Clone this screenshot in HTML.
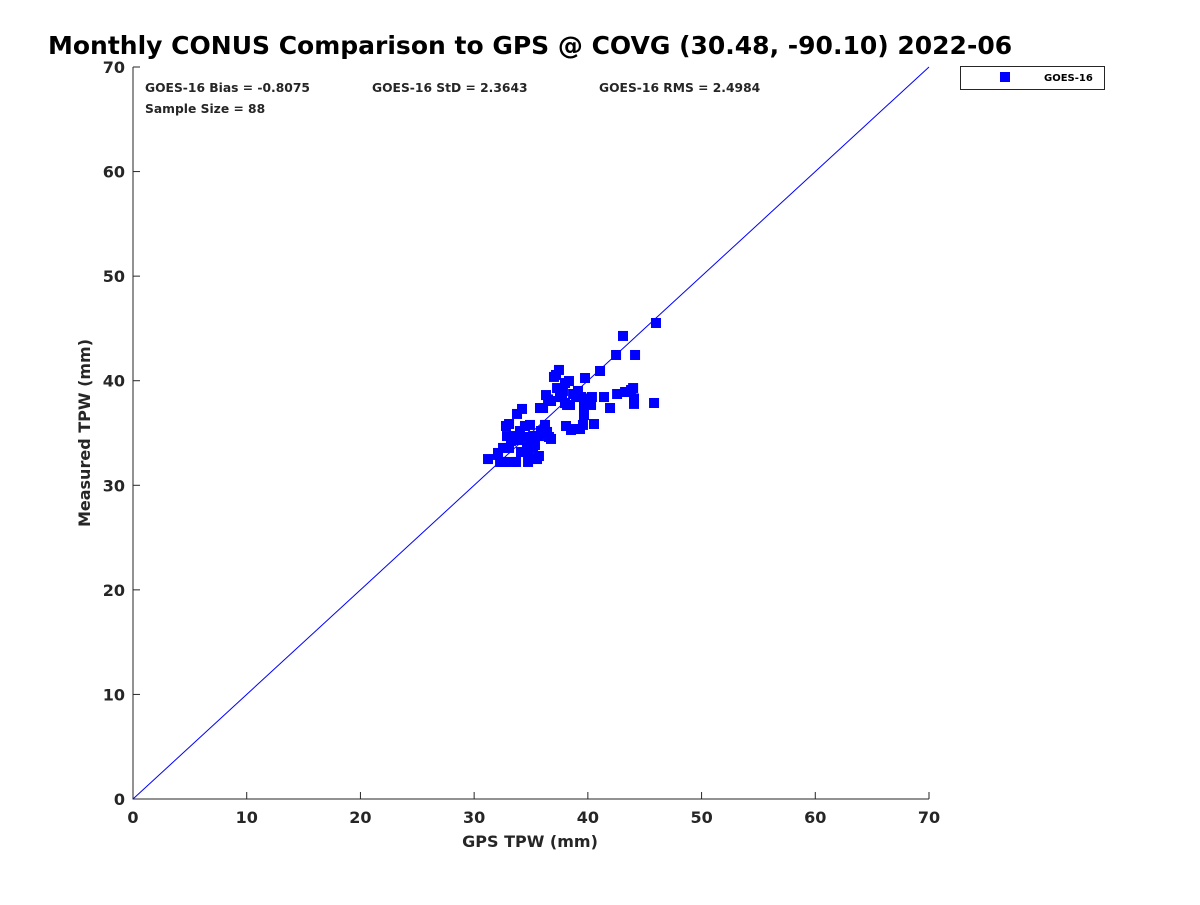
<!DOCTYPE html>
<html><head><meta charset="utf-8"><style>
body{margin:0;background:#fff;font-family:"Liberation Sans",sans-serif}
svg text{font-family:"DejaVu Sans","Liberation Sans",sans-serif;font-weight:bold;fill:#262626}
</style></head><body>
<svg id="c" width="1200" height="900">
<text x="48" y="54" font-size="25" style="fill:#000">Monthly CONUS Comparison to GPS @ COVG (30.48, -90.10) 2022-06</text>
<g id="axes"></g>
<text x="530" y="847" font-size="16" text-anchor="middle">GPS TPW (mm)</text>
<text transform="translate(90,433) rotate(-90)" font-size="16" text-anchor="middle">Measured TPW (mm)</text>
<g font-size="12.3" style="fill:#000">
<text x="145" y="92">GOES-16 Bias = -0.8075</text>
<text x="372" y="92">GOES-16 StD = 2.3643</text>
<text x="599" y="92">GOES-16 RMS = 2.4984</text>
<text x="145" y="113">Sample Size = 88</text>
</g>
<g>
<rect x="960.5" y="66.5" width="144" height="23" fill="#fff" stroke="#262626"/>
<rect x="1000" y="72" width="10" height="10" fill="#0000ff"/>
<text x="1044" y="81" font-size="10" style="fill:#000">GOES-16</text>
</g>
</svg>
<script>
const xTicks=[0,10,20,30,40,50,60,70];
const yTicks=[0,10,20,30,40,50,60,70];
const gpsX=[31.22,32.10,32.28,32.54,32.80,32.89,33.07,33.07,33.24,33.42,33.51,33.68,33.77,33.86,34.03,34.12,34.21,34.39,34.47,34.65,34.74,34.82,34.91,35.00,35.18,35.35,35.53,35.70,35.79,35.88,35.97,36.06,36.23,36.32,36.41,36.50,36.76,36.76,37.02,37.20,37.29,37.46,37.55,37.73,37.81,37.99,37.99,38.08,38.17,38.34,38.43,38.52,38.70,38.87,38.96,39.13,39.31,39.40,39.57,39.66,39.66,39.75,39.75,40.01,40.28,40.36,40.54,41.07,41.42,41.95,42.48,42.57,43.09,43.27,43.45,43.80,43.98,44.06,44.15,44.06,45.99,45.82,32.10,32.54,32.71,35.18,35.70,36.58];
const goesY=[32.51,33.09,32.23,32.23,35.67,34.71,35.86,33.57,34.24,32.23,34.71,32.23,36.82,34.33,35.19,33.18,37.30,34.62,35.67,33.66,32.23,32.90,35.77,34.43,34.71,33.85,32.51,32.80,37.39,35.19,34.90,37.39,35.77,38.63,35.10,38.21,34.43,38.06,40.36,40.55,39.30,41.03,38.44,38.44,39.02,39.78,37.87,35.67,37.68,39.97,37.68,35.29,38.73,35.38,38.44,39.02,35.38,38.44,35.77,36.72,37.58,38.30,40.26,37.78,37.68,38.44,35.86,40.93,38.44,37.39,42.46,38.73,44.28,38.92,38.92,39.11,39.30,38.30,42.46,37.78,45.52,37.87,32.90,33.57,32.23,33.66,34.71,34.62];
const X0=133,X1=929,Y0=799,Y1=67,MIN=0,MAX=70;
const sx=v=>X0+(v-MIN)/(MAX-MIN)*(X1-X0);
const sy=v=>Y0-(v-MIN)/(MAX-MIN)*(Y0-Y1);
const NS="http://www.w3.org/2000/svg";
const g=document.getElementById('axes');
function mk(t,a){const e=document.createElementNS(NS,t);for(const k in a)e.setAttribute(k,a[k]);g.appendChild(e);return e;}
let ax=mk('path',{d:`M${X0},${Y1}V${Y0}H${X1}`,fill:'none',stroke:'#262626'});


xTicks.forEach(v=>{
 const l=mk('line',{x1:sx(v),x2:sx(v),y1:Y0,y2:Y0-7,stroke:'#262626'});
 
 
 const t=mk('text',{x:sx(v),y:Y0+24,'font-size':16,'text-anchor':'middle'});t.textContent=v;
 
 
});
yTicks.forEach(v=>{
 const l=mk('line',{x1:X0,x2:X0+7,y1:sy(v),y2:sy(v),stroke:'#262626'});
 
 
 const t=mk('text',{x:X0-8,y:sy(v)+6,'font-size':16,'text-anchor':'end'});t.textContent=v;
 
 
});
const d=mk('line',{x1:sx(0),y1:sy(0),x2:sx(70),y2:sy(70),stroke:'#0000ff','stroke-width':1});


gpsX.forEach((v,i)=>{
 const r=mk('rect',{x:sx(v)-5,y:sy(goesY[i])-5,width:10,height:10,fill:'#0000ff'});
 
 
});
</script>
</body></html>
